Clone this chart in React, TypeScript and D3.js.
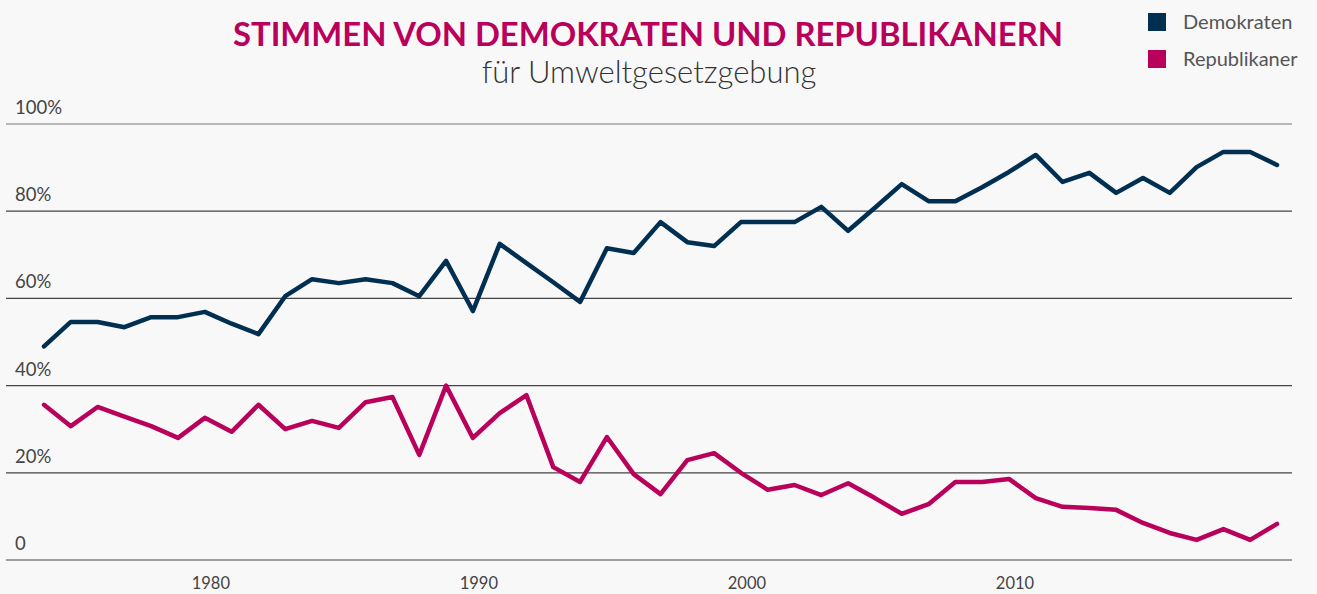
import React, { useRef, useEffect } from "react";
import * as d3 from "d3";

const years = d3.range(1974, 2021);

const demokraten = [
  49, 54.6, 54.6, 53.4, 55.7, 55.7, 56.9, 54.2, 51.8, 60.5,
  64.4, 63.5, 64.4, 63.5, 60.5, 68.6, 57.1, 72.5, 68.1, 63.7,
  59.2, 71.5, 70.4, 77.5, 72.9, 72.0, 77.5, 77.5, 77.5, 81.0,
  75.5, 80.8, 86.2, 82.3, 82.3, 85.5, 89, 92.9, 86.7, 88.8,
  84.2, 87.6, 84.2, 90.1, 93.6, 93.6, 90.6,
];

const republikaner = [
  35.6, 30.7, 35.1, 32.9, 30.7, 28.0, 32.6, 29.4, 35.6, 30.0,
  31.9, 30.3, 36.2, 37.4, 24.1, 40.0, 28.0, 33.7, 37.8, 21.3,
  17.9, 28.2, 19.7, 15.1, 22.9, 24.5, 20.0, 16.1, 17.2, 14.9,
  17.6, 14.2, 10.6, 12.8, 17.9, 17.9, 18.6, 14.2, 12.2, 11.9,
  11.5, 8.5, 6.2, 4.6, 7.1, 4.6, 8.3,
];

const yTicks = [0, 20, 40, 60, 80, 100];
const xTicks = [1980, 1990, 2000, 2010];

const series = [
  { name: "Demokraten", color: "#002f52", values: demokraten },
  { name: "Republikaner", color: "#b9005b", values: republikaner },
];

const font = "Lato, 'Noto Sans', sans-serif";

const App = () => {
  const svgRef = useRef(null);

  useEffect(() => {
    const w = 1317;
    const h = 594;
    const svg = d3.select(svgRef.current).attr("width", w).attr("height", h);
    svg.selectAll("*").remove();

    svg.append("rect").attr("width", w).attr("height", h).attr("fill", "#f8f8f8");

    const x = d3.scaleLinear().domain([1974, 2020]).range([44, 1277]);
    const y = d3.scaleLinear().domain([0, 100]).range([560, 124]);

    // title + subtitle
    svg
      .append("text")
      .attr("x", 648)
      .attr("y", 46)
      .attr("text-anchor", "middle")
      .attr("font-family", font)
      .attr("font-weight", 700)
      .attr("font-size", 32)
      .attr("fill", "#b9005b")
      .attr("textLength", 830)
      .attr("lengthAdjust", "spacingAndGlyphs")
      .text("STIMMEN VON DEMOKRATEN UND REPUBLIKANERN");

    svg
      .append("text")
      .attr("x", 649)
      .attr("y", 83)
      .attr("text-anchor", "middle")
      .attr("font-family", font)
      .attr("font-weight", 300)
      .attr("font-size", 31)
      .attr("fill", "#333")
      .text("für Umweltgesetzgebung");

    // legend
    const legend = svg
      .selectAll(".legend")
      .data(series)
      .enter()
      .append("g")
      .attr("class", "legend")
      .attr("transform", (d, i) => `translate(1148, ${13 + i * 37})`);
    legend.append("rect").attr("width", 18).attr("height", 18).attr("fill", (d) => d.color);
    legend
      .append("text")
      .attr("x", 35)
      .attr("y", 16)
      .attr("font-family", font)
      .attr("font-size", 20)
      .attr("fill", "#555")
      .text((d) => d.name);

    // gridlines + y labels
    const grid = svg.append("g");
    grid
      .selectAll("line")
      .data(yTicks)
      .enter()
      .append("line")
      .attr("x1", 6)
      .attr("x2", 1292)
      .attr("y1", (d) => y(d))
      .attr("y2", (d) => y(d))
      .attr("stroke", (d) => (d === 100 ? "#777" : "#444"))
      .attr("stroke-width", 1.2);
    grid
      .selectAll("text")
      .data(yTicks)
      .enter()
      .append("text")
      .attr("x", 15)
      .attr("y", (d) => y(d) - 10)
      .attr("font-family", font)
      .attr("font-size", 18.5)
      .attr("fill", "#444")
      .text((d) => (d === 0 ? "0" : `${d}%`));

    // x labels
    svg
      .append("g")
      .selectAll("text")
      .data(xTicks)
      .enter()
      .append("text")
      .attr("x", (d) => x(d) + 6)
      .attr("y", 589)
      .attr("text-anchor", "middle")
      .attr("font-family", font)
      .attr("font-size", 16.5)
      .attr("fill", "#444")
      .text((d) => d);

    // lines
    const line = d3
      .line()
      .x((d, i) => x(years[i]))
      .y((d) => y(d));

    svg
      .selectAll(".series")
      .data(series)
      .enter()
      .append("path")
      .attr("class", "series")
      .attr("d", (d) => line(d.values))
      .attr("fill", "none")
      .attr("stroke", (d) => d.color)
      .attr("stroke-width", 4.5)
      .attr("stroke-linejoin", "round")
      .attr("stroke-linecap", "round");
  }, []);

  return (
    <svg ref={svgRef} style={{ position: "absolute", left: 0, top: 0, display: "block" }}></svg>
  );
};

export default App;
